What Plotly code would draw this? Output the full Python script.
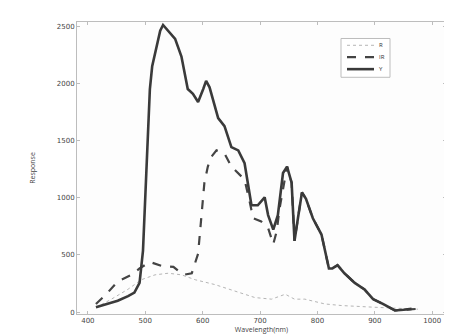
import plotly.graph_objects as go

# Wavelength (nm) and responses
wl_total = [414, 432, 452, 470, 481, 490, 496, 502, 508, 512, 520, 526, 531, 540, 552, 563, 574, 583, 592,
            601, 606, 612, 627, 638, 650, 662, 673, 685, 696, 708, 714, 723, 731, 740, 747, 755, 760, 766,
            773, 780, 792, 807, 820, 826, 835, 847, 865, 882, 897, 914, 935, 950, 964]
resp_total = [42, 70, 99, 140, 170, 255, 538, 1246, 1953, 2152, 2322, 2463, 2514, 2463, 2392, 2237, 1953,
              1911, 1840, 1953, 2024, 1968, 1699, 1628, 1444, 1416, 1303, 935, 935, 1005, 849, 722, 849,
              1218, 1274, 1133, 623, 821, 1048, 991, 821, 679, 382, 382, 411, 340, 255, 198, 113, 71, 14,
              20, 28]

wl_dash = [414, 432, 452, 476, 490, 508, 528, 549, 566, 581, 592, 598, 603, 609, 615, 624, 638, 650, 662,
           673, 682, 688, 702, 714, 723, 729, 734, 740, 747, 755, 760, 766, 773, 780, 792, 807, 820, 826,
           835, 847, 865, 882, 897, 914, 935, 950, 975]
resp_dash = [71, 156, 269, 326, 382, 439, 405, 396, 326, 340, 510, 821, 1133, 1274, 1359, 1416, 1388, 1274,
             1218, 1161, 963, 821, 793, 736, 595, 708, 906, 1076, 1274, 1133, 623, 821, 1048, 991, 821, 679,
             382, 382, 411, 340, 255, 198, 113, 71, 14, 20, 28]

wl_dot = [414, 440, 470, 493, 517, 540, 563, 587, 621, 656, 691, 720, 744, 760, 778, 813, 842, 900, 958, 975]
resp_dot = [40, 110, 200, 283, 326, 340, 326, 283, 241, 184, 127, 113, 156, 113, 113, 71, 57, 42, 28, 25]

labels = ["R", "IR", "Y"]
x_ticks = [400, 500, 600, 700, 800, 900, 1000]
y_ticks = [0, 500, 1000, 1500, 2000, 2500]

styles = [dict(color="#b5b5b5", width=1, dash="dot"),
          dict(color="#444444", width=2.2, dash="dash"),
          dict(color="#3a3a3a", width=2.6)]

fig = go.Figure()
for xs, ys, name, st in zip([wl_dot, wl_dash, wl_total], [resp_dot, resp_dash, resp_total], labels, styles):
    fig.add_trace(go.Scatter(x=xs, y=ys, mode="lines", name=name, line=st, showlegend=False))

# Compact legend box (paper coordinates of the plot area)
L, R_, T, B = 69, 438, 14, 315
def px(x):
    return (x - L) / (R_ - L)
def py(y):
    return (B - y) / (B - T)

shapes = [dict(type="rect", xref="paper", yref="paper", x0=px(333), x1=px(382), y0=py(71), y1=py(31),
               line=dict(color="#bdbdbd", width=1), fillcolor="white", layer="above")]
annotations = []
for i, (name, st) in enumerate(zip(labels, styles)):
    yy = py(38 + i * 12.3)
    shapes.append(dict(type="line", xref="paper", yref="paper", x0=px(339), x1=px(366), y0=yy, y1=yy,
                       line=st, layer="above"))
    annotations.append(dict(text=name, xref="paper", yref="paper", x=px(369), y=yy, xanchor="left",
                            yanchor="middle", showarrow=False, font=dict(size=6, color="#333333")))

axis_common = dict(showline=True, linecolor="#bdbdbd", linewidth=1, mirror="allticks",
                   ticks="inside", ticklen=3, tickcolor="#bdbdbd", showgrid=False, zeroline=False,
                   tickfont=dict(size=7, color="#444444", family="DejaVu Sans"))

fig.update_layout(
    width=452, height=336,
    margin=dict(l=69, r=14, t=14, b=21),
    paper_bgcolor="white", plot_bgcolor="#fdfdfd",
    xaxis=dict(range=[381, 1024], tickvals=x_ticks, **axis_common,
               title=dict(text="Wavelength(nm)", font=dict(size=7, color="#444444"), standoff=2)),
    yaxis=dict(range=[-17, 2540], tickvals=y_ticks, **axis_common,
               title=dict(text="Response", font=dict(size=7, color="#444444"), standoff=20)),
    shapes=shapes, annotations=annotations,
    showlegend=False,
)

fig.write_html("out.html")
